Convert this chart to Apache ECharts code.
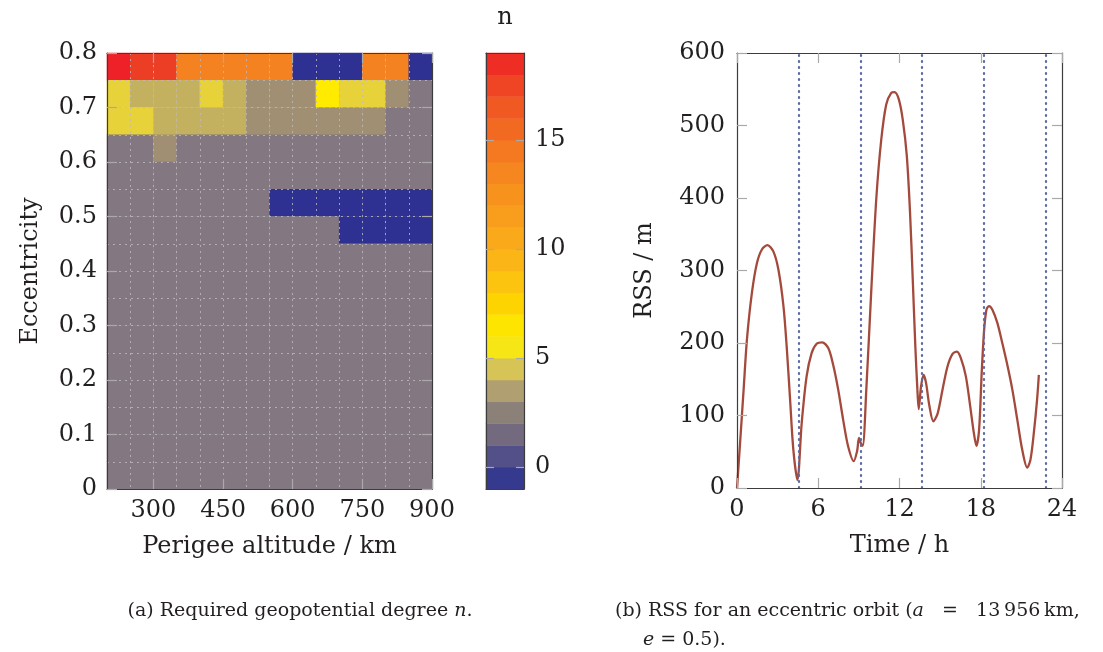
<!DOCTYPE html>
<html><head><meta charset="utf-8">
<script src="https://cdn.jsdelivr.net/npm/echarts@6/dist/echarts.min.js"></script>
<style>html,body{margin:0;padding:0;background:#fff}#c{width:1103px;height:652px}</style>
</head><body><div id="c"></div>
<script>
// ---------- data ----------
const altitudeCenters = [225,275,325,375,425,475,525,575,625,675,725,775,825,875];
const eccentricityCenters = [0.025,0.075,0.125,0.175,0.225,0.275,0.325,0.375,0.425,0.475,0.525,0.575,0.625,0.675,0.725,0.775];
// required degree n, rows from e=0.775 (top) down to e=0.025 (bottom)
const nRows = [
  [18,17,17,14,14,14,14,14,0,0,0,14,14,0],
  [5,4,4,4,5,4,3,3,3,6,5,5,3,2],
  [5,5,4,4,4,4,3,3,3,3,3,3,2,2],
  [2,2,3,2,2,2,2,2,2,2,2,2,2,2],
  [2,2,2,2,2,2,2,2,2,2,2,2,2,2],
  [2,2,2,2,2,2,2,0,0,0,0,0,0,0],
  [2,2,2,2,2,2,2,2,2,2,0,0,0,0],
  [2,2,2,2,2,2,2,2,2,2,2,2,2,2],
  [2,2,2,2,2,2,2,2,2,2,2,2,2,2],
  [2,2,2,2,2,2,2,2,2,2,2,2,2,2],
  [2,2,2,2,2,2,2,2,2,2,2,2,2,2],
  [2,2,2,2,2,2,2,2,2,2,2,2,2,2],
  [2,2,2,2,2,2,2,2,2,2,2,2,2,2],
  [2,2,2,2,2,2,2,2,2,2,2,2,2,2],
  [2,2,2,2,2,2,2,2,2,2,2,2,2,2],
  [2,2,2,2,2,2,2,2,2,2,2,2,2,2]
];
const nValues = [0,2,3,4,5,6,14,17,18];
const nValueColors = ['#2e3192','#837881','#a08f73','#c4b15f','#e8d23a','#ffeb00','#f58220','#ec3d25','#ee2128'];
const colorbarLevels = [-1,0,1,2,3,4,5,6,7,8,9,10,11,12,13,14,15,16,17,18];
const colorbarColors = ['#363a8e','#534f89','#736a80','#8c8178','#b09f70','#d7c456','#f6e616','#fee500','#fed400','#fdc40f',
  '#fbb516','#faa91a','#f89e1c','#f7921d','#f6861f','#f47920','#f26a21','#f05a22','#ef4524','#ee2d24'];
const altitudeTicks = [300,450,600,750,900];
const colorbarTicks = [0,5,10,15];
const timeH = [0,0.245,0.49,0.735,1.10,1.47,1.84,2.25,2.69,3.06,3.43,3.67,3.92,4.16,4.46,4.78,5.14,5.51,5.88,6.29,
  6.74,7.10,7.47,7.84,8.20,8.62,8.87,9.01,9.14,9.28,9.55,9.92,10.29,10.65,11.02,11.39,11.63,11.95,12.24,12.54,
  12.78,12.98,13.17,13.32,13.42,13.59,13.78,13.96,14.21,14.50,14.82,15.18,15.55,15.92,16.24,16.53,16.90,17.22,17.49,17.68,
  17.88,18.07,18.25,18.42,18.61,18.86,19.22,19.59,19.96,20.33,20.70,21.06,21.43,21.67,21.92,22.16,22.29];
const rssM = [0,67,136,205,269,310,329,335,326,301,251,195,122,53,11,90,154,186,199,201,
  193,170,136,94,58,37,51,69,62,58,136,274,400,480,529,545,546,536,508,458,
  379,287,195,136,109,140,156,145,113,92,103,136,168,185,188,179,154,113,76,58,
  81,159,218,246,251,246,228,200,170,136,94,53,28,39,76,122,156];
const perigeeTimes = [4.557,9.114,13.671,18.228,22.785];

// ---------- style ----------
const FONT = 'DejaVu Serif';
const TXT = '#231f20';
const FRAME = '#3c3c3c';
const TICK = {show:true, inside:true, length:10, lineStyle:{color:'#a9a9a9', width:1.2}};
const LBL = {color:TXT, fontFamily:FONT, fontSize:24};
const NAME = {color:TXT, fontFamily:FONT, fontSize:24};

const heatData = [];
nRows.forEach((row, r) => row.forEach((n, c) => heatData.push([c, nRows.length - 1 - r, n])));
const barData = colorbarLevels.map((v, i) => [0, i, v]);
const lineData = timeH.map((t, i) => [t, rssM[i]]);

function frameAxis(extra) {
  return Object.assign({axisLine:{show:true, onZero:false, lineStyle:{color:FRAME, width:1.2}}, splitLine:{show:false}, z:5}, extra);
}

const dotted = {show:true, interval:0, lineStyle:{color:'rgba(190,186,190,0.8)', width:1, type:[2,4]}};
const italic = {i:{fontStyle:'italic', fontFamily:FONT, fontSize:19, fill:TXT}};

const option = {
  animation:false,
  grid:[
    {left:107, top:53, width:325, height:436},
    {left:486, top:53, width:38, height:436},
    {left:737, top:53, width:325, height:435}
  ],
  xAxis:[
    {type:'category', gridIndex:0, data:altitudeCenters, axisLine:{show:false}, axisTick:{show:false}, axisLabel:{show:false}, splitLine:dotted, z:4},
    frameAxis({type:'value', gridIndex:0, min:200, max:900, position:'bottom',
      axisTick:Object.assign({customValues:altitudeTicks}, TICK),
      axisLabel:Object.assign({customValues:altitudeTicks, margin:10}, LBL),
      name:'Perigee altitude / km', nameLocation:'middle', nameGap:46, nameTextStyle:NAME}),
    frameAxis({type:'value', gridIndex:0, min:200, max:900, position:'top',
      axisTick:Object.assign({customValues:altitudeTicks}, TICK), axisLabel:{show:false}}),
    {type:'category', gridIndex:1, data:['n'], show:false},
    frameAxis({type:'value', gridIndex:1, min:0, max:1, position:'bottom', axisTick:{show:false}, axisLabel:{show:false}}),
    frameAxis({type:'value', gridIndex:1, min:0, max:1, position:'top', axisTick:{show:false}, axisLabel:{show:false}}),
    frameAxis({type:'value', gridIndex:2, min:0, max:24, interval:6, position:'bottom',
      axisTick:TICK, axisLabel:Object.assign({margin:10}, LBL),
      name:'Time / h', nameLocation:'middle', nameGap:46, nameTextStyle:NAME}),
    frameAxis({type:'value', gridIndex:2, min:0, max:24, interval:6, position:'top', axisTick:TICK, axisLabel:{show:false}})
  ],
  yAxis:[
    {type:'category', gridIndex:0, data:eccentricityCenters, axisLine:{show:false}, axisTick:{show:false}, axisLabel:{show:false}, splitLine:dotted, z:4},
    frameAxis({type:'value', gridIndex:0, min:0, max:0.8, interval:0.1, position:'left',
      axisTick:TICK, axisLabel:Object.assign({margin:10, formatter:v => String(+v.toFixed(1))}, LBL),
      name:'Eccentricity', nameLocation:'middle', nameGap:64, nameTextStyle:NAME}),
    frameAxis({type:'value', gridIndex:0, min:0, max:0.8, interval:0.1, position:'right', axisTick:TICK, axisLabel:{show:false}}),
    {type:'category', gridIndex:1, data:colorbarLevels, show:false},
    frameAxis({type:'value', gridIndex:1, min:-1, max:19, position:'right',
      axisTick:Object.assign({customValues:colorbarTicks}, TICK, {length:8}),
      axisLabel:Object.assign({customValues:colorbarTicks, margin:11}, LBL)}),
    frameAxis({type:'value', gridIndex:1, min:-1, max:19, position:'left',
      axisTick:Object.assign({customValues:colorbarTicks}, TICK, {length:8}), axisLabel:{show:false}}),
    frameAxis({type:'value', gridIndex:2, min:0, max:600, interval:100, position:'left',
      axisTick:TICK, axisLabel:Object.assign({margin:12}, LBL),
      name:'RSS / m', nameLocation:'middle', nameGap:80, nameTextStyle:NAME}),
    frameAxis({type:'value', gridIndex:2, min:0, max:600, interval:100, position:'right', axisTick:TICK, axisLabel:{show:false}})
  ],
  visualMap:[
    {type:'piecewise', show:false, seriesIndex:0, dimension:2,
      pieces:nValues.map((v, i) => ({value:v, color:nValueColors[i]}))},
    {type:'piecewise', show:false, seriesIndex:1, dimension:2,
      pieces:colorbarLevels.map((v, i) => ({value:v, color:colorbarColors[i]}))}
  ],
  series:[
    {type:'heatmap', xAxisIndex:0, yAxisIndex:0, data:heatData, progressive:0, emphasis:{disabled:true}},
    {type:'heatmap', xAxisIndex:3, yAxisIndex:3, data:barData, progressive:0, emphasis:{disabled:true}},
    {type:'line', xAxisIndex:6, yAxisIndex:6, data:lineData, showSymbol:false, smooth:0.3,
      lineStyle:{color:'#a44a3c', width:2.3}, itemStyle:{color:'#a44a3c'},
      markLine:{silent:true, symbol:['none','none'], label:{show:false},
        lineStyle:{color:'#5a6aa6', width:2.2, type:[1,5], cap:'round'},
        data:perigeeTimes.map(t => ({xAxis:t}))}}
  ],
  graphic:[
    {type:'text', x:505, y:18, style:{text:'n', font:'24px "DejaVu Serif"', fill:TXT, align:'center', verticalAlign:'middle'}},
    {type:'text', x:300, y:611, style:{text:'(a) Required geopotential degree {i|n}.', font:'19px "DejaVu Serif"', fill:TXT,
      align:'center', verticalAlign:'middle', rich:italic}},
    {type:'text', x:615, y:611, style:{text:'(b) RSS for an eccentric orbit ({i|a}   =   13\u2009956\u2009km,', font:'19px "DejaVu Serif"', fill:TXT,
      align:'left', verticalAlign:'middle', rich:italic}},
    {type:'text', x:643, y:640, style:{text:'{i|e} = 0.5).', font:'19px "DejaVu Serif"', fill:TXT,
      align:'left', verticalAlign:'middle', rich:italic}}
  ]
};
const chart = echarts.init(document.getElementById('c'), null, {renderer:'canvas'});
chart.setOption(option);
</script>
</body></html>
